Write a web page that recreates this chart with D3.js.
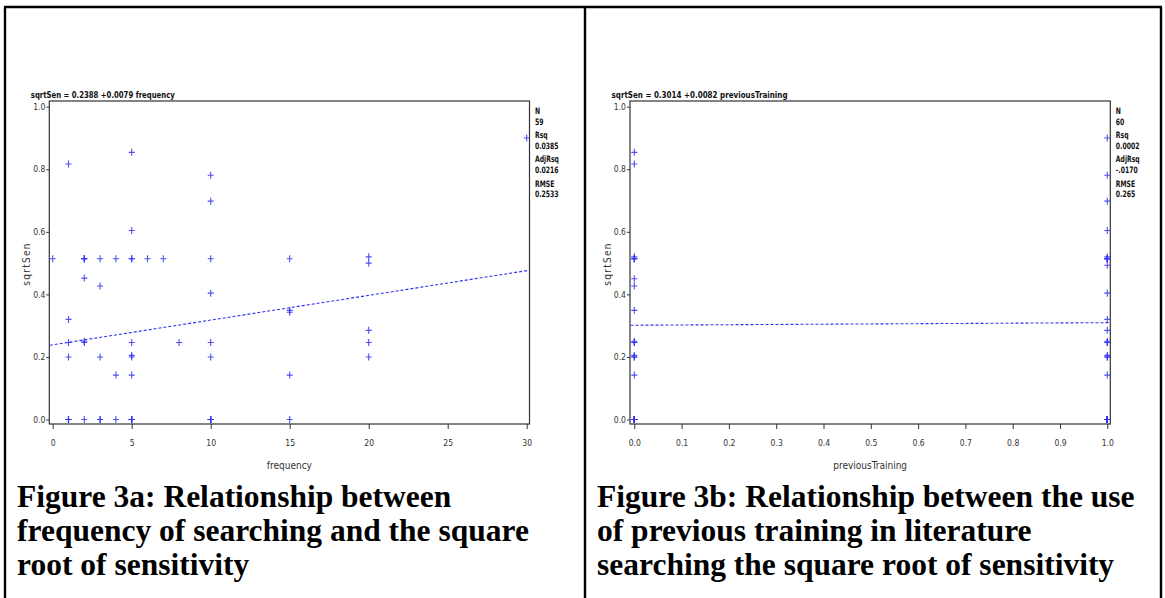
<!DOCTYPE html>
<html>
<head>
<meta charset="utf-8">
<script src="https://cdn.jsdelivr.net/npm/d3@7"></script>
<style>
  body { margin: 0; background: #fff; }
  svg { display: block; }
  .tick-label { font-family: "Liberation Sans Narrow", "DejaVu Sans Condensed", sans-serif; font-size: 8.5px; fill: #333; }
  .axis-title { font-family: "Liberation Sans Narrow", "DejaVu Sans Condensed", sans-serif; font-size: 10px; fill: #333; }
  .mono { font-family: "DejaVu Sans Condensed", sans-serif; font-size: 9.5px; font-weight: bold; fill: #111; }
  .stat { font-family: "DejaVu Sans Condensed", sans-serif; font-size: 8px; font-weight: bold; fill: #111; }
  .caption { font-family: "Liberation Serif", "Times New Roman", serif; font-weight: bold; font-size: 31.5px; fill: #000; }
</style>
</head>
<body>
<svg id="chart"></svg>
<script>
// figure 3a: frequency of searching vs sqrt(sensitivity)
const freqX = [0,
  1, 1, 1, 1, 1, 1, 1,
  2, 2, 2, 2, 2, 2, 2,
  3, 3, 3, 3, 3,
  4, 4, 4,
  5, 5, 5, 5, 5, 5, 5, 5, 5, 5, 5, 5,
  6, 7, 8,
  10, 10, 10, 10, 10, 10, 10, 10, 10, 10,
  15, 15, 15, 15, 15,
  20, 20, 20, 20, 20,
  30];
const freqY = [0.514,
  0.817, 0.32, 0.246, 0.2, 0, 0, 0,
  0.514, 0.514, 0.514, 0.452, 0.246, 0.25, 0,
  0.514, 0.427, 0.2, 0, 0,
  0.514, 0.142, 0,
  0.854, 0.604, 0.514, 0.514, 0.246, 0.2, 0.205, 0.142, 0, 0, 0, 0,
  0.514, 0.514, 0.246,
  0.781, 0.698, 0.514, 0.404, 0.246, 0.2, 0, 0, 0, 0,
  0.514, 0.349, 0.343, 0.142, 0,
  0.52, 0.50, 0.285, 0.246, 0.2,
  0.9];

// figure 3b: previous training (0/1) vs sqrt(sensitivity)
const trainX = [0, 0, 0, 0, 0, 0, 0, 0, 0, 0, 0, 0, 0, 0, 0, 0, 0, 0, 0, 0, 0, 0, 0, 0, 0, 0,
  1, 1, 1, 1, 1, 1, 1, 1, 1, 1, 1, 1, 1, 1, 1, 1, 1, 1, 1, 1, 1, 1, 1, 1, 1, 1, 1, 1, 1, 1, 1, 1, 1, 1];
const trainY = [0.854, 0.817, 0.52, 0.514, 0.514, 0.514, 0.45, 0.427, 0.349, 0.25, 0.246, 0.246, 0.205, 0.2, 0.2, 0.142,
  0, 0, 0, 0, 0, 0, 0, 0, 0, 0,
  0.9, 0.781, 0.698, 0.604, 0.52, 0.514, 0.514, 0.514, 0.514, 0.493, 0.404, 0.32, 0.285, 0.25, 0.246, 0.246,
  0.205, 0.2, 0.2, 0.142, 0, 0, 0, 0, 0, 0, 0, 0, 0, 0, 0, 0, 0, 0];

const yTicks = [0, 0.2, 0.4, 0.6, 0.8, 1.0];
const freqTicks = [0, 5, 10, 15, 20, 25, 30];
const trainTicks = [0, 0.1, 0.2, 0.3, 0.4, 0.5, 0.6, 0.7, 0.8, 0.9, 1.0];

const fit3a = { a: 0.2388, b: 0.0079, eq: 'sqrtSen = 0.2388 +0.0079 frequency' };
const fit3b = { a: 0.3014, b: 0.0082, eq: 'sqrtSen = 0.3014 +0.0082 previousTraining' };
const stats3a = [['N', '59'], ['Rsq', '0.0385'], ['AdjRsq', '0.0216'], ['RMSE', '0.2533']];
const stats3b = [['N', '60'], ['Rsq', '0.0002'], ['AdjRsq', '-.0170'], ['RMSE', '0.265']];

const captions3a = ['Figure 3a: Relationship between', 'frequency of searching and the square', 'root of sensitivity'];
const captions3b = ['Figure 3b: Relationship between the use', 'of previous training in literature', 'searching the square root of sensitivity'];

const W = 1165, H = 598;
const blue = '#3030f2';
const svg = d3.select('#chart').attr('width', W).attr('height', H);

// outer table frame
const frame = svg.append('g').attr('stroke', '#000').attr('stroke-width', 2.4);
frame.append('line').attr('x1', 4).attr('x2', 1162).attr('y1', 7).attr('y2', 7);
frame.append('line').attr('x1', 5).attr('x2', 5).attr('y1', 7).attr('y2', H);
frame.append('line').attr('x1', 585).attr('x2', 585).attr('y1', 7).attr('y2', H);
frame.append('line').attr('x1', 1161).attr('x2', 1161).attr('y1', 7).attr('y2', H);

function drawPanel({ xs, ys, xDomain, xRange, box, ticks, tickFmt, xTitle, fit, stats, captions, capX }) {
  const x = d3.scaleLinear().domain(xDomain).range(xRange);
  const y = d3.scaleLinear().domain([0, 1]).range([419.5, 106.7]);
  const g = svg.append('g');

  // plot box
  g.append('rect')
    .attr('x', box.x0).attr('y', box.y0)
    .attr('width', box.x1 - box.x0).attr('height', box.y1 - box.y0)
    .attr('fill', 'none').attr('stroke', '#333').attr('stroke-width', 1.2);

  // y axis
  const yAxis = g.append('g').attr('transform', `translate(${box.x0},0)`)
    .call(d3.axisLeft(y).tickValues(yTicks).tickFormat(d3.format('.1f')).tickSize(3).tickPadding(1));
  yAxis.select('.domain').remove();
  yAxis.selectAll('line').attr('stroke', '#333');
  yAxis.selectAll('text').attr('class', 'tick-label').attr('font-family', null).attr('font-size', null).attr('fill', null);

  // x axis
  const xAxis = g.append('g').attr('transform', `translate(0,${box.y1})`)
    .call(d3.axisBottom(x).tickValues(ticks).tickFormat(tickFmt).tickSize(5).tickPadding(11));
  xAxis.select('.domain').remove();
  xAxis.selectAll('line').attr('stroke', '#333');
  xAxis.selectAll('text').attr('class', 'tick-label').attr('font-family', null).attr('font-size', null).attr('fill', null);

  g.append('text').attr('class', 'axis-title')
    .attr('x', (box.x0 + box.x1) / 2).attr('y', 469)
    .attr('text-anchor', 'middle').text(xTitle);

  g.append('text').attr('class', 'axis-title')
    .attr('transform', `translate(${box.x0 - 19},264) rotate(-90)`)
    .attr('text-anchor', 'middle').attr('letter-spacing', 1.3).text('sqrtSen');

  // fit equation above the box
  g.append('text').attr('class', 'mono')
    .attr('x', box.x0 - 18.5).attr('y', 98)
    .attr('textLength', fit.w).attr('lengthAdjust', 'spacingAndGlyphs')
    .text(fit.eq);

  // regression line across the box
  const xa = x.invert(box.x0 + 0.5), xb = x.invert(box.x1 - 0.5);
  g.append('line')
    .attr('x1', x(xa)).attr('y1', y(fit.a + fit.b * xa))
    .attr('x2', x(xb)).attr('y2', y(fit.a + fit.b * xb))
    .attr('stroke', blue).attr('stroke-width', 1.1).attr('stroke-dasharray', '3,2');

  // points
  g.append('g').selectAll('path')
    .data(xs.map((v, i) => [v, ys[i]]))
    .join('path')
    .attr('transform', d => `translate(${x(d[0])},${y(d[1])})`)
    .attr('d', 'M-3,0H3M0,-3.5V3.5')
    .attr('stroke', blue).attr('stroke-width', 1.1).attr('stroke-opacity', 0.85);

  // stats column, narrow tall lettering
  const st = g.append('g');
  stats.forEach(([k, v], i) => {
    st.append('text').attr('class', 'stat')
      .attr('transform', `translate(${box.x1 + 5.5},${114 + i * 24.2}) scale(0.85,1.1)`).text(k);
    st.append('text').attr('class', 'stat')
      .attr('transform', `translate(${box.x1 + 5.5},${124.5 + i * 24.2}) scale(0.85,1.1)`).text(v);
  });

  // caption
  captions.forEach((c, i) => {
    svg.append('text').attr('class', 'caption')
      .attr('x', capX).attr('y', 507 + i * 34).text(c);
  });
}

drawPanel({
  xs: freqX, ys: freqY, xDomain: [0, 30], xRange: [52.7, 526.7],
  box: { x0: 49.3, x1: 529.5, y0: 101, y1: 424 },
  ticks: freqTicks, tickFmt: d3.format('d'), xTitle: 'frequency',
  fit: { ...fit3a, w: 144 }, stats: stats3a, captions: captions3a, capX: 17
});

drawPanel({
  xs: trainX, ys: trainY, xDomain: [0, 1], xRange: [634.3, 1107.3],
  box: { x0: 630, x1: 1110.3, y0: 101, y1: 424 },
  ticks: trainTicks, tickFmt: d3.format('.1f'), xTitle: 'previousTraining',
  fit: { ...fit3b, w: 176 }, stats: stats3b, captions: captions3b, capX: 597
});
</script>
</body>
</html>
